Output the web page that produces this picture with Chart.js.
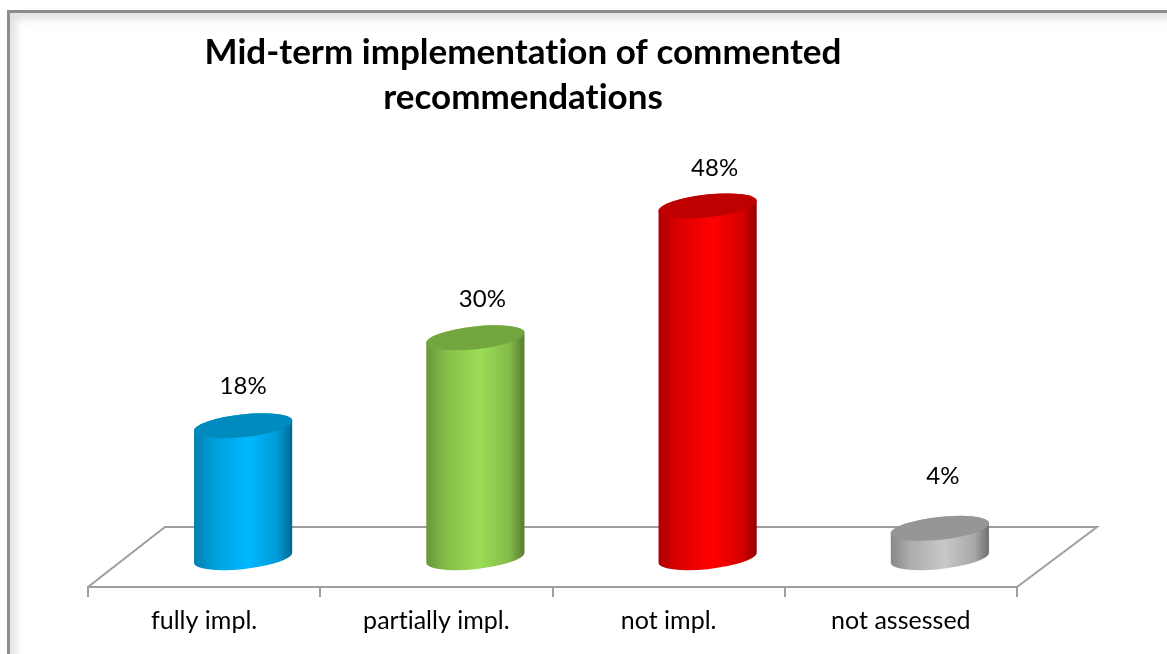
<!DOCTYPE html>
<html>
<head>
<meta charset="utf-8">
<style>
html,body{margin:0;padding:0;background:#fff;overflow:hidden;width:1167px;height:654px}
#frame{position:absolute;left:7px;top:10px;width:1400px;height:900px;border-left:3px solid #8c8c8c;border-top:3px solid #8c8c8c;box-shadow:inset 9px 9px 9px -3px #e2e2e2}
canvas{position:absolute;left:0;top:0}
</style>
<script src="https://cdn.jsdelivr.net/npm/chart.js@4/dist/chart.umd.js"></script>
</head>
<body>
<div id="frame"></div>
<canvas id="c" width="1167" height="654"></canvas>
<script>
const titleLines = ["Mid-term implementation of commented", "recommendations"];
const categories = ["fully impl.", "partially impl.", "not impl.", "not assessed"];
const values = [18, 30, 48, 4];
const barColors = ["#00B9FF", "#9BDD55", "#FF0000", "#C8C8C8"];

// Style constants (3D look of the original)
const DEPTH_X = 77, DEPTH_Y = 60, BAR_SHIFT = 39, TILT = -6.15 * Math.PI / 180, RATIO = 0.231;
const LABEL_NUDGE = [[0, 40], [7, 39], [7, 38], [3, 52]];
const FONT = "Lato, Carlito, sans-serif";

function shade(hex, f) {
  const n = parseInt(hex.slice(1), 16);
  return "rgb(" + [(n >> 16) & 255, (n >> 8) & 255, n & 255].map(v => Math.round(v * f)).join(",") + ")";
}

Chart.BarElement.prototype.draw = function (ctx) {
  const col = this.options.backgroundColor;
  const cx = this.x + BAR_SHIFT, a = this.width / 2 * 1.006, b = a * RATIO;
  const top = this.y, base = this.base;
  const t0 = Math.atan2(-b * Math.sin(TILT), a * Math.cos(TILT));
  const left = cx - this.width / 2, right = cx + this.width / 2;
  const g = ctx.createLinearGradient(left, 0, right, 0);
  g.addColorStop(0, shade(col, 0.68));
  g.addColorStop(0.2, shade(col, 0.86));
  g.addColorStop(0.55, col);
  g.addColorStop(0.85, shade(col, 0.84));
  g.addColorStop(1, shade(col, 0.56));
  ctx.save();
  ctx.beginPath();
  ctx.ellipse(cx, base, a, b, TILT, t0, t0 + Math.PI);
  ctx.ellipse(cx, top, a, b, TILT, t0 + Math.PI, t0 + 2 * Math.PI);
  ctx.closePath();
  ctx.fillStyle = g;
  ctx.fill();
  ctx.beginPath();
  ctx.ellipse(cx, top, a, b, TILT, 0, 2 * Math.PI);
  ctx.fillStyle = shade(col, 0.75);
  ctx.fill();
  ctx.restore();
};

const floorPlugin = {
  id: "floor",
  afterLayout(chart) {
    chart.titleBlock.left = 0;
    chart.titleBlock.right = 1046;
  },
  beforeDraw(chart) {
    // a tiny letter spacing switches off the "ti" ligature of the font
    chart.ctx.letterSpacing = "0.01px";
  },
  beforeDatasetsDraw(chart) {
    const { ctx, chartArea: { left, right, bottom } } = chart;
    ctx.save();
    ctx.strokeStyle = "#9E9E9E";
    ctx.lineWidth = 2;
    ctx.beginPath();
    ctx.moveTo(left, bottom);
    ctx.lineTo(left + DEPTH_X, bottom - DEPTH_Y);
    ctx.lineTo(right + DEPTH_X + 3, bottom - DEPTH_Y);
    ctx.lineTo(right, bottom);
    ctx.stroke();
    ctx.restore();
  }
};

const labelPlugin = {
  id: "valueLabels",
  afterDatasetsDraw(chart) {
    const { ctx } = chart;
    ctx.save();
    ctx.font = "24px " + FONT;
    ctx.fillStyle = "#000";
    ctx.textAlign = "center";
    ctx.textBaseline = "middle";
    chart.getDatasetMeta(0).data.forEach((el, i) => {
      ctx.fillText(values[i] + "%", el.x + BAR_SHIFT + LABEL_NUDGE[i][0], el.y - LABEL_NUDGE[i][1]);
    });
    ctx.restore();
  }
};

new Chart(document.getElementById("c"), {
  type: "bar",
  data: {
    labels: categories,
    datasets: [{
      data: values,
      backgroundColor: barColors,
      categoryPercentage: 1,
      barPercentage: 0.4224,
      clip: false
    }]
  },
  options: {
    responsive: false,
    animation: false,
    layout: { padding: { left: 88, right: 150, top: 0, bottom: 0 } },
    plugins: {
      legend: { display: false },
      tooltip: { enabled: false },
      title: {
        display: true,
        text: titleLines,
        color: "#000",
        font: { family: FONT, size: 35, weight: "bold", lineHeight: 1.29 },
        padding: { top: 30, bottom: 27 }
      }
    },
    scales: {
      y: { display: false, min: -4, max: 56 },
      x: {
        afterFit(scale) { scale.height = 67; },
        border: { color: "#9E9E9E", width: 2 },
        grid: { drawOnChartArea: false, color: "#9E9E9E", lineWidth: 2, tickLength: 10 },
        ticks: { color: "#000", font: { family: FONT, size: 25 }, padding: 9, maxRotation: 0 }
      }
    }
  },
  plugins: [floorPlugin, labelPlugin]
});
</script>
</body>
</html>
